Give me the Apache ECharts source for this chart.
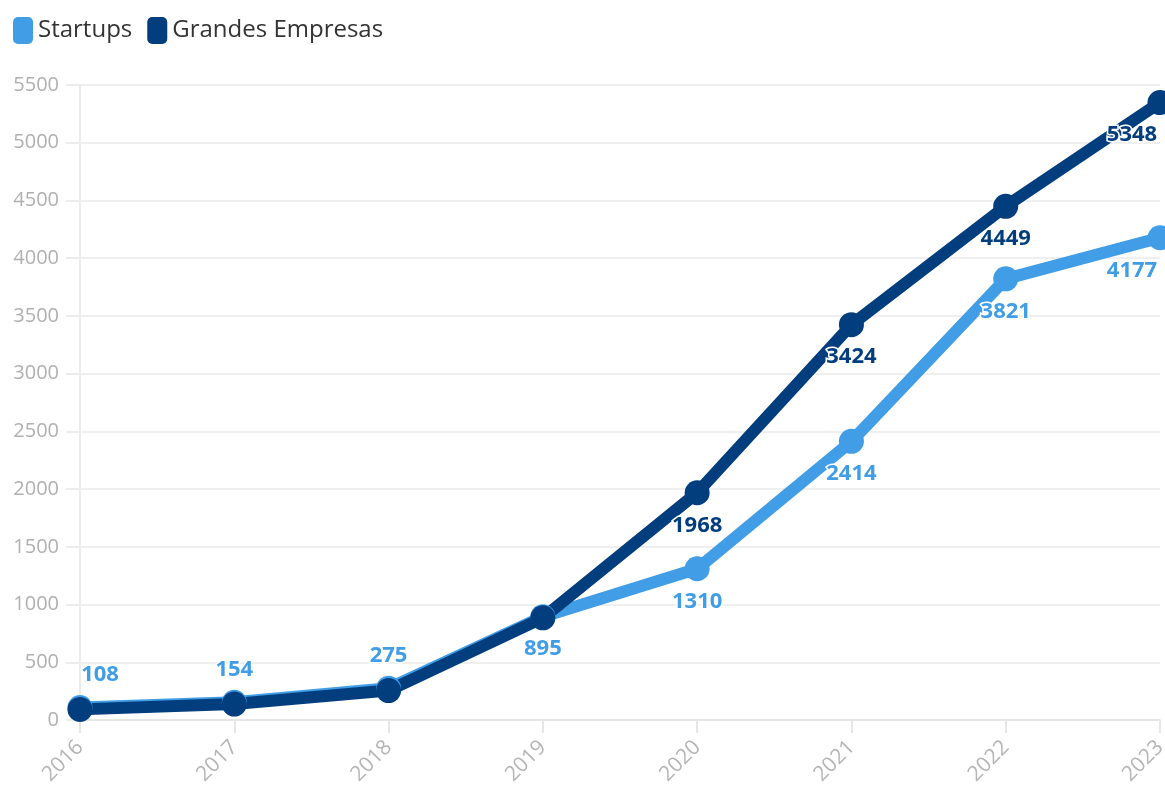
<!DOCTYPE html>
<html>
<head>
<meta charset="utf-8">
<script src="https://cdn.jsdelivr.net/npm/echarts@6/dist/echarts.min.js"></script>
<style>
  html,body{margin:0;padding:0;background:#fff;}
  #main{width:1165px;height:785px;}
</style>
</head>
<body>
<div id="main"></div>
<script>
    // datos
    var years = ['2016','2017','2018','2019','2020','2021','2022','2023'];
    var startups = [108,154,275,895,1310,2414,3821,4177];
    var grandes = [92,138,255,885,1968,3424,4449,5348];
    var yTicks = [0,500,1000,1500,2000,2500,3000,3500,4000,4500,5000,5500];

    var lightBlue = '#409de6';
    var darkBlue = '#023e7d';
    var font = 'Open Sans';

    function creatData(arr,name){
    	var out = [];
    	for(var i=0;i<arr.length;i++){
    		var item = {value:arr[i],label:{}};
    		if(name=='startups'){
    			item.label.position = i<3 ? 'top' : 'bottom';
    		}else{
    			item.label.show = i>=4;
    		}
    		if(i==0){
    			item.label.offset = [20,0];
    		}
    		if(i==arr.length-1){
    			item.label.offset = [-28,0];
    		}
    		out.push(item);
    	}
    	return out;
    }

    function labelStyle(color){
    	return {
    		show:true,
    		position:'bottom',
    		distance:9,
    		color:color,
    		fontFamily:font,
    		fontWeight:'bold',
    		fontSize:22,
    		textBorderColor:'#fff',
    		textBorderWidth:3
    	};
    }

    var myChart = echarts.init(document.getElementById('main'));
    var option = {
        animation:false,
        legend:{
            left:8,
            top:12,
            itemWidth:20,
            itemHeight:27,
            itemGap:15,
            icon:'roundRect',
            textStyle:{fontFamily:font,fontSize:24,color:'#333'},
            data:['Startups','Grandes Empresas']
        },
        grid:{left:80,right:5,top:85,bottom:65,containLabel:false,outerBoundsMode:'none'},
        xAxis:{
            type:'category',
            boundaryGap:false,
            data:years,
            axisLine:{lineStyle:{color:'#e6e6e6',width:2}},
            axisTick:{show:true,length:13,lineStyle:{color:'#e6e6e6',width:2}},
            axisLabel:{rotate:45,margin:24,fontFamily:font,fontSize:21,color:'#b5b5b5'},
            splitLine:{show:false}
        },
        yAxis:{
            type:'value',
            min:yTicks[0],
            max:yTicks[yTicks.length-1],
            interval:500,
            axisLine:{show:true,lineStyle:{color:'#ececec',width:2}},
            axisTick:{show:true,length:14,lineStyle:{color:'#ececec',width:2}},
            axisLabel:{margin:21,fontFamily:font,fontSize:20,color:'#b0b0b0',
                formatter:function(v){return String(v);}},
            splitLine:{lineStyle:{color:'#efefef',width:2}}
        },
        series:[
            {
                name:'Startups',
                type:'line',
                data:creatData(startups,'startups'),
                color:lightBlue,
                lineStyle:{width:12},
                symbol:'circle',
                symbolSize:25,
                label:labelStyle(lightBlue)
            },
            {
                name:'Grandes Empresas',
                type:'line',
                data:creatData(grandes,'grandes'),
                color:darkBlue,
                lineStyle:{width:12},
                symbol:'circle',
                symbolSize:25,
                label:labelStyle(darkBlue)
            }
        ]
    };
    myChart.setOption(option);
</script>
</body>
</html>
